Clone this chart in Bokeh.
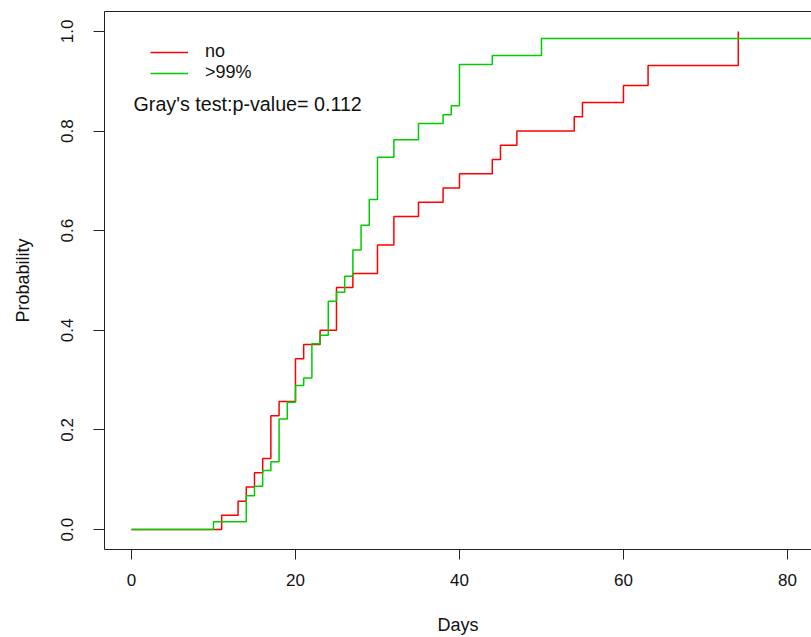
from bokeh.plotting import figure
from bokeh.models import Range1d, FixedTicker, LinearAxis, Legend, LegendItem, Label, PrintfTickFormatter
from bokeh.embed import file_html
from bokeh.resources import INLINE

# ---- data (cumulative incidence) ----
no_days = [0, 11, 13, 14, 15, 16, 17, 18, 20, 21, 23, 25, 27, 30, 32, 35, 38, 40, 44, 45, 47, 54, 55, 60, 63, 74]
no_prob = [0.0, 0.0286, 0.0571, 0.0857, 0.1143, 0.1429, 0.2286, 0.2571, 0.3429, 0.3714, 0.4000,
           0.4857, 0.5143, 0.5714, 0.6286, 0.6571, 0.6857, 0.7143, 0.7429, 0.7714, 0.8000,
           0.8286, 0.8571, 0.8914, 0.9314, 1.0]

g99_days = [0, 10, 14, 15, 16, 17, 18, 19, 20, 21, 22, 23, 24, 25, 26, 27, 28, 29, 30, 32, 35, 38, 39, 40, 44, 50, 84]
g99_prob = [0.0, 0.0155, 0.068, 0.087, 0.1185, 0.136, 0.2222, 0.2557, 0.289, 0.3045, 0.373, 0.390,
            0.4585, 0.4766, 0.5087, 0.561, 0.611, 0.6627, 0.7476, 0.7824, 0.815, 0.8327, 0.8508,
            0.9337, 0.9518, 0.9859, 0.9859]

x_ticks = [0, 20, 40, 60, 80]
y_ticks = [0.0, 0.2, 0.4, 0.6, 0.8, 1.0]
series_names = ["no", ">99%"]
annotation = "Gray's test:p-value= 0.112"

FONT = "Liberation Sans"
RED = "#FF0000"
GREEN = "#00CD00"

p = figure(width=811, height=637, output_backend="svg", toolbar_location=None,
           x_range=Range1d(-3.29, 82.93), y_range=Range1d(-0.04, 1.04),
           min_border_left=104, min_border_right=0, min_border_top=11, min_border_bottom=87,
           x_axis_label="Days", y_axis_label="Probability")
p.outline_line_color = None
p.xgrid.grid_line_color = None
p.ygrid.grid_line_color = None
p.background_fill_color = "white"
p.border_fill_color = "white"

for ax in (p.xaxis[0], p.yaxis[0]):
    ax.minor_tick_line_color = None
    ax.major_tick_in = 0
    ax.axis_line_color = "#222222"
    ax.major_tick_line_color = "#222222"
    ax.major_label_text_font = FONT
    ax.major_label_text_font_size = "17px"
    ax.major_label_text_color = "#111111"
    ax.axis_label_text_font = FONT
    ax.axis_label_text_font_size = "18px"
    ax.axis_label_text_font_style = "normal"
    ax.axis_label_text_color = "#111111"

p.xaxis.ticker = FixedTicker(ticks=x_ticks)
p.xaxis.major_tick_out = 10
p.xaxis.major_label_standoff = 14
p.xaxis.axis_label_standoff = 26

p.yaxis.ticker = FixedTicker(ticks=y_ticks)
p.yaxis.formatter = PrintfTickFormatter(format="%.1f")
p.yaxis.major_label_orientation = "vertical"
p.yaxis.major_tick_out = 11
p.yaxis.major_label_standoff = 20
p.yaxis.axis_label_standoff = 26

# top border of the box
top = LinearAxis(ticker=FixedTicker(ticks=[]), major_tick_out=0, major_tick_in=0,
                 minor_tick_out=0, minor_tick_in=0, major_label_standoff=0,
                 major_label_text_font_size="0px", axis_line_color="#222222")
p.add_layout(top, "above")

r_no = p.step(no_days, no_prob, mode="after", line_color=RED, line_width=1.5)
r_g = p.step(g99_days, g99_prob, mode="after", line_color=GREEN, line_width=1.5)

legend = Legend(items=[LegendItem(label=series_names[0], renderers=[r_no]),
                       LegendItem(label=series_names[1], renderers=[r_g])],
                location=(46, 466), border_line_color=None, background_fill_alpha=0,
                padding=0, margin=0, spacing=0, glyph_width=38, glyph_height=20,
                label_height=20, label_standoff=17,
                label_text_font=FONT, label_text_font_size="18px", label_text_color="#111111")
p.add_layout(legend)

p.add_layout(Label(x=0.25, y=0.855, text=annotation, text_font=FONT, text_font_size="19.7px",
                   text_baseline="middle", text_color="#111111"))

open("out.html", "w").write(file_html(p, INLINE))
